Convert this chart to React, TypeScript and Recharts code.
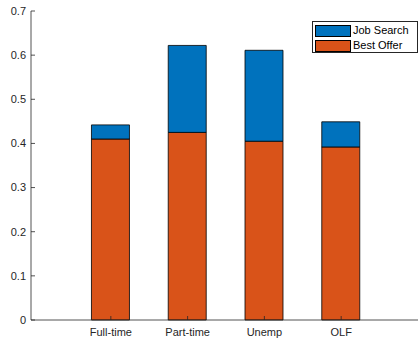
import React from 'react';
import { BarChart, Bar, XAxis, YAxis, Legend } from 'recharts';

const categories = ['Full-time', 'Part-time', 'Unemp', 'OLF'];
const bestOffer = [0.41, 0.425, 0.405, 0.392];
const jobSearch = [0.032, 0.197, 0.206, 0.057];
const yTicks = [0, 0.1, 0.2, 0.3, 0.4, 0.5, 0.6, 0.7];
const xPositions = [1, 2, 3, 4];

const data = categories.map((c, i) => ({
  x: xPositions[i],
  name: c,
  bestOffer: bestOffer[i],
  jobSearch: jobSearch[i],
}));

const AXIS = '#262626';
const FONT = '"Liberation Sans", Arial, Helvetica, sans-serif';
const BLUE = '#0072BD';
const ORANGE = '#D95319';

const legendItems = [
  { label: 'Job Search', color: BLUE },
  { label: 'Best Offer', color: ORANGE },
];

const LegendBox = () => (
  <div
    style={{
      width: 106,
      height: 32,
      border: `1px solid ${AXIS}`,
      background: '#fff',
      boxSizing: 'border-box',
      fontFamily: FONT,
      fontSize: 11,
      color: '#000',
      padding: '2px 0 0 2px',
    }}
  >
    {legendItems.map((it) => (
      <div key={it.label} style={{ display: 'flex', alignItems: 'center', height: 13, marginBottom: 2 }}>
        <div
          style={{
            width: 36,
            height: 12,
            background: it.color,
            border: '1px solid #000',
            boxSizing: 'border-box',
            marginRight: 2,
          }}
        />
        <span style={{ lineHeight: '13px' }}>{it.label}</span>
      </div>
    ))}
  </div>
);

const tickStyle = { fontSize: 11, fill: AXIS, fontFamily: FONT };

export default function App() {
  return (
    <div style={{ position: 'absolute', left: 0, top: 0, width: 418, height: 339, overflow: 'hidden', background: '#fff' }}>
      <BarChart
        width={421}
        height={339}
        data={data}
        margin={{ top: 11, right: 0, bottom: 0, left: 0 }}
      >
        <XAxis
          dataKey="x"
          type="number"
          domain={[-0.04, 5.04]}
          ticks={xPositions}
          tickFormatter={(v: number) => categories[xPositions.indexOf(v)] ?? ''}
          height={19}
          tickSize={-4}
          tickMargin={12}
          stroke={AXIS}
          strokeWidth={0.8}
          tick={tickStyle}
          allowDataOverflow
        />
        <XAxis
          xAxisId="top"
          orientation="top"
          dataKey="x"
          type="number"
          domain={[-0.04, 5.04]}
          ticks={xPositions}
          tickFormatter={() => ''}
          height={0}
          tickSize={-4}
          stroke={AXIS}
          strokeWidth={0.8}
          allowDataOverflow
        />
        <YAxis
          type="number"
          domain={[0, 0.7]}
          ticks={yTicks}
          tickFormatter={(v: number) => String(Math.round(v * 10) / 10)}
          width={31}
          tickSize={-4}
          tickMargin={9}
          stroke={AXIS}
          strokeWidth={0.8}
          tick={tickStyle}
          interval={0}
        />
        <YAxis
          yAxisId="right"
          orientation="right"
          type="number"
          domain={[0, 0.7]}
          ticks={yTicks}
          tickFormatter={() => ''}
          width={0}
          tickSize={-4}
          stroke={AXIS}
          strokeWidth={0.8}
        />
        <Legend
          layout="vertical"
          align="center"
          verticalAlign="middle"
          content={() => <LegendBox />}
          wrapperStyle={{ position: 'absolute', left: 312, top: 21, width: 106, height: 32 }}
        />
        <Bar
          dataKey="bestOffer"
          name="Best Offer"
          stackId="s"
          fill={ORANGE}
          stroke="#000"
          strokeWidth={0.8}
          barSize={38}
          isAnimationActive={false}
        />
        <Bar
          dataKey="jobSearch"
          name="Job Search"
          stackId="s"
          fill={BLUE}
          stroke="#000"
          strokeWidth={0.8}
          barSize={38}
          isAnimationActive={false}
        />
      </BarChart>
    </div>
  );
}
